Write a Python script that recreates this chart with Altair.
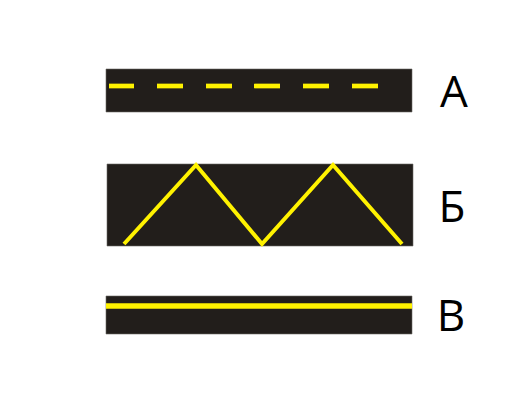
import altair as alt
import pandas as pd

# Road strips (left, right, top, bottom) in picture units
strip_names = ["А", "Б", "В"]
strip_x0 = [106, 107, 106]
strip_x1 = [412, 413, 412]
strip_y0 = [69, 164, 296]
strip_y1 = [112, 246, 334]

# Strip A: broken centre line
dash_start = [109, 157, 206, 254, 303, 352]
dash_end = [134, 183, 232, 280, 329, 378]
dash_y = 86

# Strip Б: zigzag line
zig_x = [124, 196, 262, 333, 402]
zig_y = [244, 165, 244, 165, 244]

# Strip В: solid line
solid_x = [106, 412]
solid_y = 306

# Labels
label_text = ["А", "Б", "В"]
label_x = [454, 452, 451]
label_y = [107, 222, 331]

ROAD = "#221e1b"
PAINT = "#fff200"

xs = alt.Scale(domain=[8, 522], nice=False, zero=False)
ys = alt.Scale(domain=[8, 409], nice=False, zero=False, reverse=True)

strips = pd.DataFrame({"name": strip_names, "x0": strip_x0, "x1": strip_x1,
                       "y0": strip_y0, "y1": strip_y1})
dashes = pd.DataFrame({"x0": dash_start, "x1": dash_end, "y": [dash_y] * len(dash_start)})
zig = pd.DataFrame({"i": range(len(zig_x)), "x": zig_x, "y": zig_y})
solid = pd.DataFrame({"x0": [solid_x[0]], "x1": [solid_x[1]], "y": [solid_y]})
labels = pd.DataFrame({"t": label_text, "x": label_x, "y": label_y})

road = alt.Chart(strips).mark_rect(color=ROAD, stroke="#6b6866", strokeWidth=0.6).encode(
    x=alt.X("x0:Q", scale=xs, axis=None), x2="x1",
    y=alt.Y("y0:Q", scale=ys, axis=None), y2="y1",
)

broken = alt.Chart(dashes).mark_rule(color=PAINT, strokeWidth=4.7).encode(
    x=alt.X("x0:Q", scale=xs, axis=None), x2="x1",
    y=alt.Y("y:Q", scale=ys, axis=None),
)

zigzag = alt.Chart(zig).mark_line(color=PAINT, strokeWidth=4, strokeJoin="miter").encode(
    x=alt.X("x:Q", scale=xs, axis=None),
    y=alt.Y("y:Q", scale=ys, axis=None),
    order="i:O",
)

line = alt.Chart(solid).mark_rule(color=PAINT, strokeWidth=5.5).encode(
    x=alt.X("x0:Q", scale=xs, axis=None), x2="x1",
    y=alt.Y("y:Q", scale=ys, axis=None),
)

text = alt.Chart(labels).mark_text(
    font="Open Sans", fontSize=44, align="center", baseline="alphabetic", color="black"
).encode(
    x=alt.X("x:Q", scale=xs, axis=None),
    y=alt.Y("y:Q", scale=ys, axis=None),
    text="t:N",
)

chart = alt.layer(road, broken, zigzag, line, text).properties(
    width=514, height=401, padding=0, autosize=alt.AutoSizeParams(type="none"),
    background="white",
).configure_view(stroke=None)

chart.save("out.html", embed_options={"renderer": "svg", "actions": False})
